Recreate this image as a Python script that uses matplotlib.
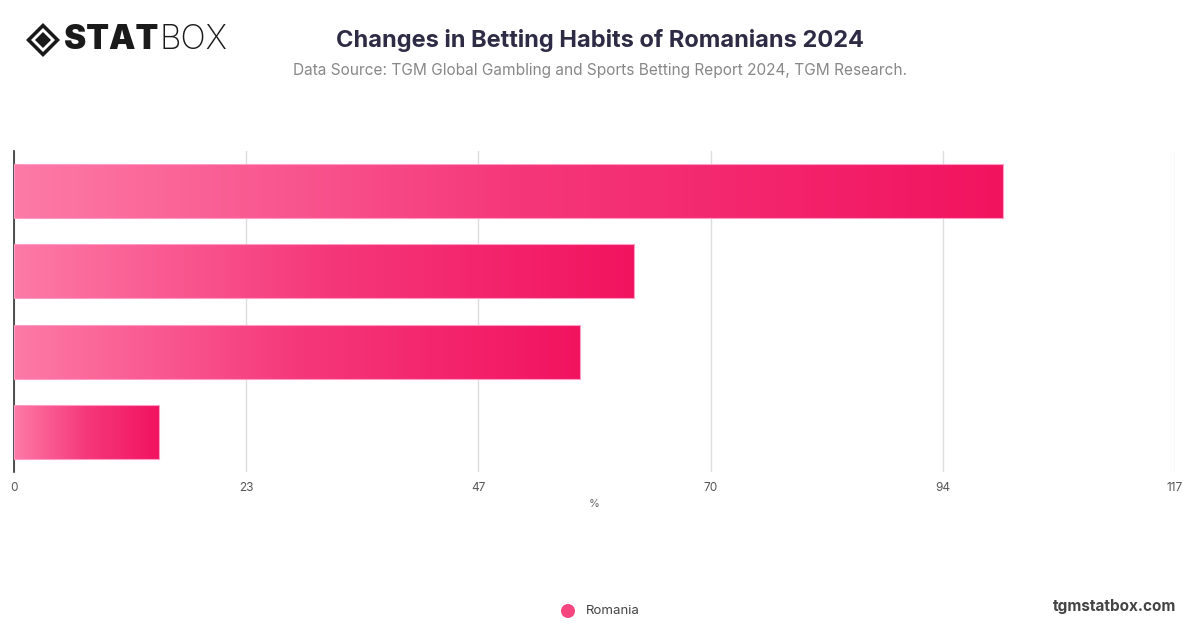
import matplotlib
matplotlib.use("Agg")
import matplotlib.pyplot as plt
import numpy as np
from matplotlib.colors import LinearSegmentedColormap
from matplotlib.patches import Polygon, Circle

categories = ["Category 1", "Category 2", "Category 3", "Category 4"]
values = [99.7, 62.5, 57.0, 14.6]
series_name = "Romania"
tick_values = [0, 23.4, 46.8, 70.2, 93.6, 117]
tick_labels = ["0", "23", "47", "70", "94", "117"]
x_max = 117

title = "Changes in Betting Habits of Romanians 2024"
subtitle = "Data Source: TGM Global Gambling and Sports Betting Report 2024, TGM Research."

plt.rcParams['font.family'] = ['Inter', 'DejaVu Sans']

W, H = 1200, 628
fig = plt.figure(figsize=(W / 100, H / 100), dpi=100)
fig.patch.set_facecolor("white")

ax = fig.add_axes([14 / W, 1 - 472 / H, (1175 - 14) / W, (472 - 151) / H])
ax.set_xlim(0, x_max)
ax.set_ylim(len(categories) - 0.5, -0.5)

cmap = LinearSegmentedColormap.from_list("pinkgrad", ["#fd7aa6", "#f5387a", "#f2135f"])
grad = np.linspace(0, 1, 256).reshape(1, -1)
bar_h = 0.675
bars = ax.barh(range(len(categories)), values, height=bar_h, color="none",
               edgecolor="#ff9cc3", linewidth=0.8, zorder=3)
for i, (b, v) in enumerate(zip(bars, values)):
    im = ax.imshow(grad, cmap=cmap, aspect="auto",
                   extent=(0, v, i + bar_h / 2, i - bar_h / 2), zorder=2,
                   interpolation="bilinear")
    im.set_clip_path(b)

ax.set_xticks(tick_values)
ax.set_xticklabels(tick_labels)
ax.set_yticks([])
ax.grid(axis="x", color="#dddddd", linewidth=1, zorder=0)
ax.set_axisbelow(True)
for s in ["top", "right", "bottom"]:
    ax.spines[s].set_visible(False)
ax.spines["left"].set_color("#333333")
ax.spines["left"].set_linewidth(1.2)
ax.tick_params(axis="x", length=0, pad=7, labelsize=8.5, labelcolor="#555555")
ax.set_xlabel("%", fontsize=8, color="#666666", labelpad=4)

# Title and subtitle
fig.text(600 / W, 1 - 40 / H, title, ha="center", va="center",
         fontsize=17, fontweight="bold", color="#2e2b45")
fig.text(600 / W, 1 - 71 / H, subtitle, ha="center", va="center",
         fontsize=11.1, color="#888888")

# Logo
cx, cy, r = 43 / W, 1 - 40 / H, 17
def pt(dx, dy):
    return (cx + dx / W, cy + dy / H)
outer = Polygon([pt(-r, 0), pt(0, r), pt(r, 0), pt(0, -r)], closed=True,
                facecolor="#1a1a1a", transform=fig.transFigure)
inner = Polygon([pt(-r + 5, 0), pt(0, r - 5), pt(r - 5, 0), pt(0, -r + 5)], closed=True,
                facecolor="white", transform=fig.transFigure)
core = Polygon([pt(-r + 9, 0), pt(0, r - 9), pt(r - 9, 0), pt(0, -r + 9)], closed=True,
               facecolor="#1a1a1a", transform=fig.transFigure)
for p in (outer, inner, core):
    fig.add_artist(p)
t1 = fig.text(64 / W, 1 - 40 / H, "STAT", ha="left", va="center",
              fontsize=24, fontweight="black", color="#1a1a1a")
fig.canvas.draw()
bb = t1.get_window_extent()
fig.text(bb.x1 / W + 1 / W, 1 - 40 / H, "BOX", ha="left", va="center",
         fontsize=24, fontweight="light", color="#1a1a1a")

# Legend and watermark
leg_ax = fig.add_axes([0, 0, 1, 1], facecolor="none")
leg_ax.set_xlim(0, W)
leg_ax.set_ylim(H, 0)
leg_ax.axis("off")
leg_ax.add_patch(Circle((568, 611), 7, facecolor="#f7457f", edgecolor="none"))
leg_ax.text(586, 611, series_name, ha="left", va="center", fontsize=9.5, color="#444444")
leg_ax.text(1176, 606, "tgmstatbox.com", ha="right", va="center", fontsize=11,
            fontweight="bold", color="#444444")

fig.savefig("out.png", dpi=100, facecolor="white")
